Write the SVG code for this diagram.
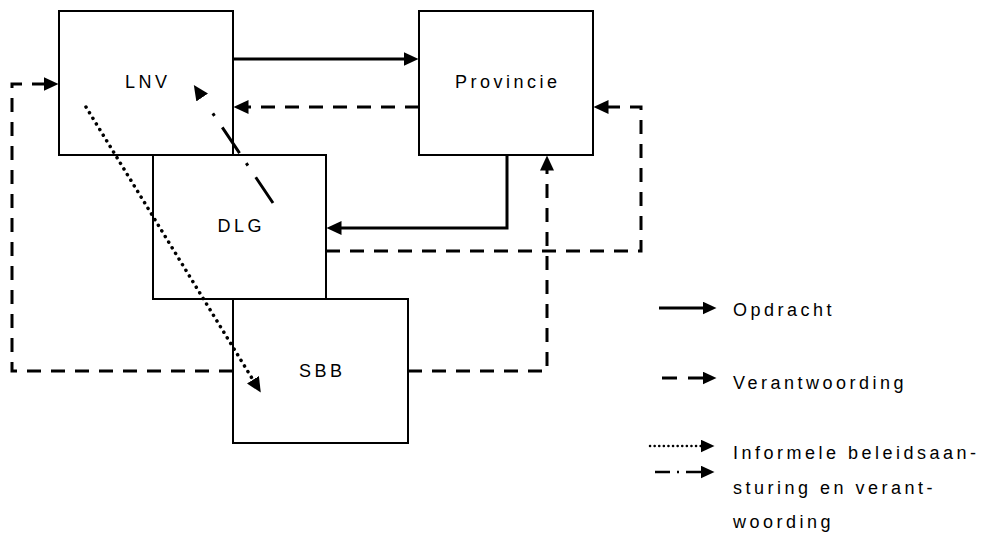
<svg xmlns="http://www.w3.org/2000/svg" width="993" height="535" viewBox="0 0 993 535">
<style>
.box{fill:#fff;stroke:#000;stroke-width:2}
.lbl{font-family:"Liberation Sans",Arial,sans-serif;font-size:18px;letter-spacing:3.5px;fill:#000}
.c{fill:none;stroke:#000;stroke-width:3}
.dash{stroke-dasharray:14 10}
.dot{stroke-dasharray:0.1 6.5;stroke-linecap:round;stroke-width:3.5}
</style>
<defs>
<marker id="ah" viewBox="0 0 15 14" markerWidth="15" markerHeight="14" refX="0.5" refY="7" orient="auto" markerUnits="userSpaceOnUse"><path d="M0,0 L15,7 L0,14 z" fill="#000"/></marker>
<marker id="ahs" viewBox="0 0 14 13" markerWidth="14" markerHeight="13" refX="0.5" refY="6.5" orient="auto" markerUnits="userSpaceOnUse"><path d="M0,0 L14,6.5 L0,13 z" fill="#000"/></marker>
</defs>
<rect width="993" height="535" fill="#fff"/>
<g id="LNV"><rect class="box" x="59" y="11" width="174" height="144"/><text class="lbl" x="147.75" y="88" text-anchor="middle">LNV</text></g>
<g id="Provincie"><rect class="box" x="419" y="11" width="174" height="144"/><text class="lbl" x="507.75" y="88" text-anchor="middle">Provincie</text></g>
<g id="DLG"><rect class="box" x="153" y="155" width="173" height="144"/><text class="lbl" x="241.25" y="232" text-anchor="middle">DLG</text></g>
<g id="SBB"><rect class="box" x="233" y="299" width="175" height="144"/><text class="lbl" x="322.25" y="377" text-anchor="middle">SBB</text></g>
<g id="connectors">
<path class="c" d="M233,59 H404" marker-end="url(#ah)"/>
<path class="c dash" d="M419,107 H248" marker-end="url(#ah)"/>
<path class="c" d="M507,155 V228 H341" marker-end="url(#ah)"/>
<path class="c dash" d="M326,251 H641 V107 H608" marker-end="url(#ah)"/>
<path class="c dash" d="M408,371 H547 V170" marker-end="url(#ah)"/>
<path class="c dash" d="M233,371 H12 V84 H44" marker-end="url(#ah)"/>
<path class="c dot" d="M86,107 L253.2,380.2" marker-end="url(#ah)"/>
<path class="c" style="stroke-dasharray:31 14 3 12 31 14 3 21" d="M273,203 L201.9,97.1" marker-end="url(#ah)"/>
</g>
<g id="legend">
<path class="c" d="M659,308 H703" marker-end="url(#ahs)"/>
<path class="c" style="stroke-dasharray:15 11" d="M662,378 H703" marker-end="url(#ahs)"/>
<path class="c" style="stroke-dasharray:0.1 4.5;stroke-linecap:round;stroke-width:2.5" d="M650,446 H701" marker-end="url(#ahs)"/>
<path class="c" style="stroke-dasharray:15 7 2 7 15 20;stroke-width:2.5" d="M655,472 H701" marker-end="url(#ahs)"/>
<text class="lbl" x="733" y="316">Opdracht</text>
<text class="lbl" x="733" y="389">Verantwoording</text>
<text class="lbl" x="733" y="459">Informele beleidsaan-</text>
<text class="lbl" x="733" y="494">sturing en verant-</text>
<text class="lbl" x="733" y="528">woording</text>
</g>
</svg>
